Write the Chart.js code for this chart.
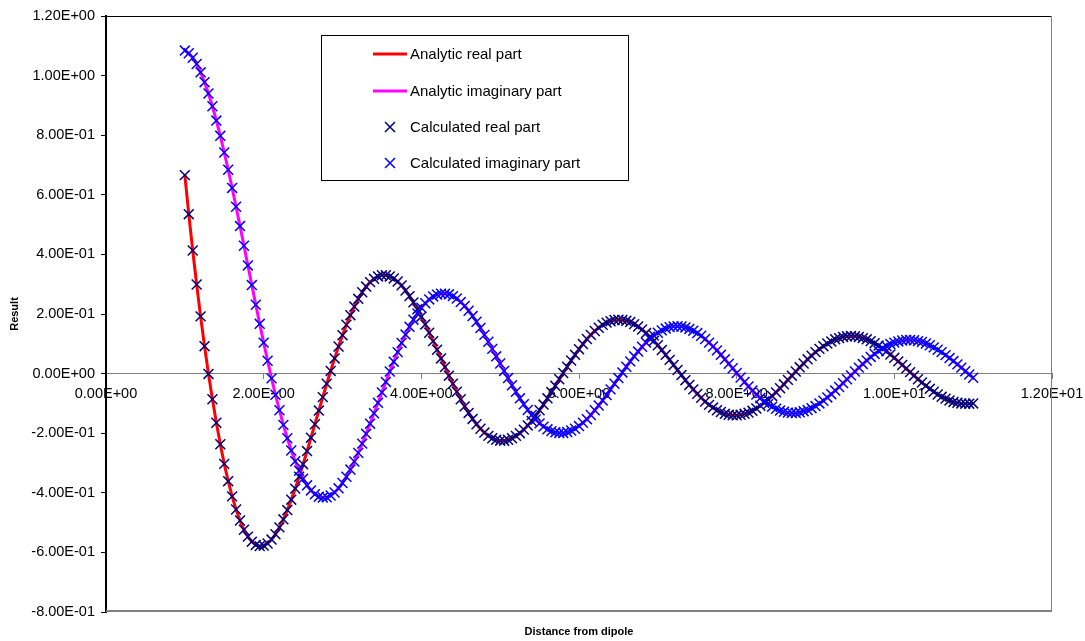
<!DOCTYPE html>
<html>
<head>
<meta charset="utf-8">
<title>Analytic vs calculated field</title>
<script src="https://cdn.jsdelivr.net/npm/chart.js@4.4.1/dist/chart.umd.min.js"></script>
<style>
  html, body { margin: 0; padding: 0; background: #fff; }
  #wrap { width: 1085px; height: 641px; }
</style>
</head>
<body>
<div id="wrap"><canvas id="chart" width="1085" height="641"></canvas></div>
<script>
// distance from the dipole (sample points, step 0.05)
const distance = [
  1.00,1.05,1.10,1.15,1.20,1.25,1.30,1.35,1.40,1.45,1.50,1.55,1.60,1.65,1.70,1.75,1.80,1.85,1.90,1.95,
  2.00,2.05,2.10,2.15,2.20,2.25,2.30,2.35,2.40,2.45,2.50,2.55,2.60,2.65,2.70,2.75,2.80,2.85,2.90,2.95,
  3.00,3.05,3.10,3.15,3.20,3.25,3.30,3.35,3.40,3.45,3.50,3.55,3.60,3.65,3.70,3.75,3.80,3.85,3.90,3.95,
  4.00,4.05,4.10,4.15,4.20,4.25,4.30,4.35,4.40,4.45,4.50,4.55,4.60,4.65,4.70,4.75,4.80,4.85,4.90,4.95,
  5.00,5.05,5.10,5.15,5.20,5.25,5.30,5.35,5.40,5.45,5.50,5.55,5.60,5.65,5.70,5.75,5.80,5.85,5.90,5.95,
  6.00,6.05,6.10,6.15,6.20,6.25,6.30,6.35,6.40,6.45,6.50,6.55,6.60,6.65,6.70,6.75,6.80,6.85,6.90,6.95,
  7.00,7.05,7.10,7.15,7.20,7.25,7.30,7.35,7.40,7.45,7.50,7.55,7.60,7.65,7.70,7.75,7.80,7.85,7.90,7.95,
  8.00,8.05,8.10,8.15,8.20,8.25,8.30,8.35,8.40,8.45,8.50,8.55,8.60,8.65,8.70,8.75,8.80,8.85,8.90,8.95,
  9.00,9.05,9.10,9.15,9.20,9.25,9.30,9.35,9.40,9.45,9.50,9.55,9.60,9.65,9.70,9.75,9.80,9.85,9.90,9.95,
  10.00,10.05,10.10,10.15,10.20,10.25,10.30,10.35,10.40,10.45,10.50,10.55,10.60,10.65,10.70,10.75,10.80,10.85,10.90,10.95,
  11.00
];

// real part (analytic line and calculated crosses lie on top of each other)
const realPart = [
  0.666,0.535,0.413,0.299,0.192,0.092,-0.001,-0.086,-0.165,-0.237,-0.303,-0.361,-0.412,-0.456,-0.493,-0.524,-0.547,-0.564,-0.575,-0.579,
  -0.577,-0.570,-0.557,-0.539,-0.516,-0.489,-0.458,-0.423,-0.386,-0.346,-0.304,-0.260,-0.215,-0.170,-0.124,-0.079,-0.034,0.009,0.051,0.091,
  0.129,0.164,0.196,0.225,0.251,0.273,0.292,0.307,0.318,0.326,0.330,0.330,0.326,0.319,0.309,0.296,0.279,0.260,0.239,0.216,
  0.191,0.165,0.137,0.109,0.080,0.051,0.022,-0.007,-0.034,-0.061,-0.086,-0.110,-0.132,-0.152,-0.170,-0.185,-0.198,-0.209,-0.217,-0.222,
  -0.225,-0.225,-0.222,-0.217,-0.209,-0.200,-0.188,-0.174,-0.159,-0.142,-0.123,-0.104,-0.083,-0.062,-0.041,-0.019,0.002,0.023,0.044,0.063,
  0.082,0.099,0.116,0.130,0.143,0.154,0.164,0.171,0.176,0.180,0.181,0.180,0.177,0.173,0.166,0.158,0.148,0.136,0.124,0.110,
  0.095,0.079,0.063,0.046,0.029,0.012,-0.005,-0.022,-0.038,-0.053,-0.068,-0.081,-0.094,-0.105,-0.114,-0.123,-0.129,-0.135,-0.138,-0.140,
  -0.140,-0.138,-0.135,-0.131,-0.125,-0.117,-0.108,-0.098,-0.087,-0.075,-0.063,-0.049,-0.036,-0.021,-0.007,0.007,0.021,0.034,0.048,0.060,
  0.072,0.083,0.092,0.101,0.108,0.115,0.119,0.123,0.125,0.126,0.125,0.123,0.119,0.115,0.109,0.102,0.094,0.085,0.075,0.064,
  0.053,0.041,0.029,0.017,0.005,-0.007,-0.019,-0.030,-0.041,-0.051,-0.061,-0.070,-0.078,-0.084,-0.090,-0.095,-0.098,-0.100,-0.101,-0.101,
  -0.100
];

// imaginary part
const imagPart = [
  1.084,1.075,1.060,1.039,1.011,0.978,0.940,0.897,0.849,0.798,0.742,0.684,0.623,0.560,0.495,0.429,0.363,0.297,0.231,0.167,
  0.104,0.043,-0.016,-0.071,-0.123,-0.172,-0.217,-0.258,-0.294,-0.326,-0.353,-0.375,-0.392,-0.405,-0.413,-0.416,-0.415,-0.409,-0.399,-0.385,
  -0.367,-0.346,-0.322,-0.295,-0.266,-0.235,-0.202,-0.168,-0.133,-0.098,-0.063,-0.028,0.007,0.040,0.072,0.103,0.131,0.157,0.181,0.202,
  0.221,0.236,0.249,0.259,0.265,0.268,0.268,0.266,0.260,0.252,0.240,0.227,0.211,0.193,0.174,0.153,0.130,0.107,0.083,0.058,
  0.034,0.009,-0.015,-0.039,-0.061,-0.083,-0.103,-0.122,-0.139,-0.154,-0.167,-0.178,-0.187,-0.193,-0.197,-0.199,-0.199,-0.196,-0.191,-0.185,
  -0.176,-0.165,-0.153,-0.139,-0.123,-0.107,-0.090,-0.072,-0.053,-0.034,-0.015,0.004,0.023,0.041,0.058,0.074,0.090,0.104,0.116,0.128,
  0.137,0.145,0.151,0.156,0.158,0.159,0.158,0.155,0.150,0.144,0.136,0.127,0.116,0.104,0.091,0.078,0.063,0.048,0.033,0.018,
  0.002,-0.013,-0.028,-0.043,-0.057,-0.070,-0.082,-0.093,-0.102,-0.111,-0.118,-0.124,-0.128,-0.131,-0.132,-0.132,-0.130,-0.126,-0.122,-0.116,
  -0.109,-0.100,-0.091,-0.080,-0.069,-0.057,-0.045,-0.032,-0.019,-0.006,0.007,0.020,0.032,0.044,0.056,0.066,0.076,0.085,0.092,0.099,
  0.104,0.108,0.111,0.113,0.113,0.112,0.109,0.106,0.101,0.095,0.088,0.080,0.072,0.062,0.052,0.042,0.031,0.020,0.008,-0.003,
  -0.014
];

const xTickLabels = ['0.00E+00','2.00E+00','4.00E+00','6.00E+00','8.00E+00','1.00E+01','1.20E+01'];
const yTickLabels = ['-8.00E-01','-6.00E-01','-4.00E-01','-2.00E-01','0.00E+00','2.00E-01',
                     '4.00E-01','6.00E-01','8.00E-01','1.00E+00','1.20E+00'];

const FONT = '"Liberation Sans", Arial, sans-serif';

const toPoints = ys => distance.map((x, i) => ({ x: x, y: ys[i] }));

// plot area frame, drawn under the data
const plotFrame = {
  id: 'plotFrame',
  beforeDatasetsDraw(chart) {
    const { ctx, chartArea: a } = chart;
    ctx.save();
    ctx.lineWidth = 1;
    ctx.strokeStyle = '#000';
    ctx.beginPath();
    ctx.moveTo(a.left, a.top + 0.5);
    ctx.lineTo(a.right, a.top + 0.5);
    ctx.stroke();
    ctx.strokeStyle = '#808080';
    ctx.beginPath();
    ctx.moveTo(a.right - 0.5, a.top);
    ctx.lineTo(a.right - 0.5, a.bottom);
    ctx.stroke();
    ctx.lineWidth = 2;
    ctx.beginPath();
    ctx.moveTo(a.left, a.bottom - 1);
    ctx.lineTo(a.right, a.bottom - 1);
    ctx.stroke();
    ctx.restore();
  }
};

// axis titles and the boxed legend inside the plot
const titlesAndLegend = {
  id: 'titlesAndLegend',
  afterDraw(chart) {
    const { ctx, chartArea: a } = chart;
    ctx.save();
    ctx.fillStyle = '#000';
    ctx.font = 'bold 11px ' + FONT;
    ctx.textAlign = 'center';
    ctx.textBaseline = 'middle';
    ctx.fillText('Distance from dipole', (a.left + a.right) / 2, 632);
    ctx.save();
    ctx.translate(15, (a.top + a.bottom) / 2);
    ctx.rotate(-Math.PI / 2);
    ctx.fillText('Result', 0, 0);
    ctx.restore();

    // legend
    ctx.fillStyle = '#fff';
    ctx.fillRect(321.5, 35.5, 307, 145);
    ctx.strokeStyle = '#000';
    ctx.lineWidth = 1;
    ctx.strokeRect(321.5, 35.5, 307, 145);
    const rows = [54, 91, 127, 163];
    ctx.font = '15px ' + FONT;
    ctx.textAlign = 'left';
    chart.data.datasets.forEach((ds, i) => {
      const y = rows[i];
      ctx.strokeStyle = ds.borderColor;
      ctx.beginPath();
      if (ds.showLine) {
        ctx.lineWidth = 3;
        ctx.moveTo(373, y);
        ctx.lineTo(407, y);
      } else {
        ctx.lineWidth = 1.5;
        ctx.moveTo(385, y - 5); ctx.lineTo(395, y + 5);
        ctx.moveTo(395, y - 5); ctx.lineTo(385, y + 5);
      }
      ctx.stroke();
      ctx.fillStyle = '#000';
      ctx.fillText(ds.label, 410, y + 1);
    });
    ctx.restore();
  }
};

new Chart(document.getElementById('chart'), {
  type: 'scatter',
  data: {
    datasets: [
      {
        label: 'Analytic real part',
        data: toPoints(realPart),
        showLine: true,
        borderColor: '#FF0000',
        borderWidth: 3,
        pointRadius: 0,
        order: 4
      },
      {
        label: 'Analytic imaginary part',
        data: toPoints(imagPart),
        showLine: true,
        borderColor: '#FF00FF',
        borderWidth: 3,
        pointRadius: 0,
        order: 3
      },
      {
        label: 'Calculated real part',
        data: toPoints(realPart),
        showLine: false,
        pointStyle: 'crossRot',
        pointRadius: 7,
        borderColor: '#000080',
        pointBorderWidth: 1.5,
        order: 2
      },
      {
        label: 'Calculated imaginary part',
        data: toPoints(imagPart),
        showLine: false,
        pointStyle: 'crossRot',
        pointRadius: 7,
        borderColor: '#0000FF',
        pointBorderWidth: 1.5,
        order: 1
      }
    ]
  },
  options: {
    responsive: false,
    animation: false,
    events: [],
    layout: { padding: { left: 0, top: 16, right: 33, bottom: 29 } },
    plugins: {
      legend: { display: false },
      tooltip: { enabled: false }
    },
    scales: {
      x: {
        type: 'linear',
        position: { y: 0 },
        min: 0,
        max: 12,
        afterFit: s => { s.height = 0; s.paddingLeft = 0; s.paddingRight = 0; },
        grid: { drawOnChartArea: false, tickLength: 5, color: '#808080' },
        border: { display: true, color: '#808080', width: 1 },
        ticks: {
          stepSize: 2,
          autoSkip: false,
          maxRotation: 0,
          padding: 7,
          color: '#000',
          font: { family: FONT, size: 14.5 },
          callback: (v, i) => xTickLabels[i]
        }
      },
      y: {
        type: 'linear',
        position: 'left',
        min: -0.8,
        max: 1.2,
        afterFit: s => { s.width = 106; s.paddingTop = 0; s.paddingBottom = 0; },
        grid: { drawOnChartArea: false, tickLength: 5, color: '#000' },
        border: { display: true, color: '#000', width: 2 },
        ticks: {
          stepSize: 0.2,
          padding: 6,
          color: '#000',
          font: { family: FONT, size: 14.5 },
          callback: (v, i) => yTickLabels[i]
        }
      }
    }
  },
  plugins: [plotFrame, titlesAndLegend]
});
</script>
</body>
</html>
